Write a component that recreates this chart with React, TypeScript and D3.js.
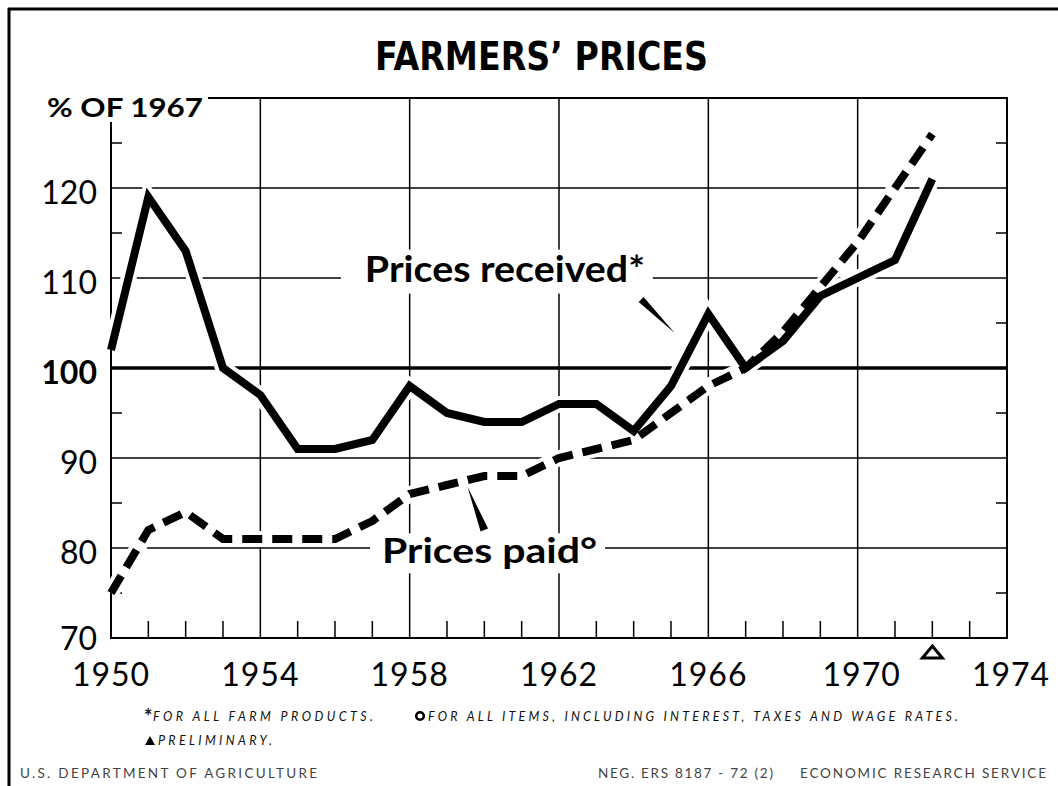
import React from 'react';
import * as d3 from 'd3';

// Farmers' prices, % of 1967
const years = [
  1950, 1951, 1952, 1953, 1954, 1955, 1956, 1957, 1958, 1959, 1960, 1961,
  1962, 1963, 1964, 1965, 1966, 1967, 1968, 1969, 1970, 1971, 1972,
];
const pricesReceived = [
  102, 119, 113, 100, 97, 91, 91, 92, 98, 95, 94, 94, 96, 96, 93, 98, 106, 100,
  103, 108, 110, 112, 121,
];
const pricesPaid = [
  75, 82, 84, 81, 81, 81, 81, 83, 86, 87, 88, 88, 90, 91, 92, 95, 98, 100, 104,
  109, 114, 120, 126,
];
const yearLabels = [1950, 1954, 1958, 1962, 1966, 1970, 1974];
const valueLabels = [70, 80, 90, 100, 110, 120];
const minorValues = [75, 85, 95, 105, 115, 125];
const preliminaryYear = 1972;

const W = 1058;
const H = 786;
const margin = { top: 98, right: 51, bottom: 148, left: 111 };

const x = d3.scaleLinear().domain([1950, 1974]).range([margin.left, W - margin.right]);
const y = d3.scaleLinear().domain([70, 130]).range([H - margin.bottom, margin.top]);

const line = d3
  .line<number>()
  .x((_, i) => x(years[i]))
  .y((d) => y(d));

const TICK_FONT = 'Lato, "DejaVu Sans", sans-serif';

export default function App() {
  const x0 = x.range()[0];
  const x1 = x.range()[1];
  const y0 = y.range()[0];
  const y1 = y.range()[1];
  const minorYears = d3.range(1951, 1974).filter((yr) => !yearLabels.includes(yr));

  // pointer wedges (tapered strokes) from label to line
  const wedge = (ax: number, ay: number, bx: number, by: number, w: number) => {
    const dx = bx - ax;
    const dy = by - ay;
    const len = Math.hypot(dx, dy);
    const nx = (-dy / len) * (w / 2);
    const ny = (dx / len) * (w / 2);
    return `M${ax + nx},${ay + ny}L${ax - nx},${ay - ny}L${bx},${by}Z`;
  };

  const recLabelX = x(1956.8);
  const recLabelY = y(109.6);
  const paidLabelX = x(1957.26);
  const paidLabelY = y(78.3);

  return (
    <svg
      width={W}
      height={H}
      style={{ position: 'absolute', left: 0, top: 0, background: '#fff' }}
    >
      <rect width={W} height={H} fill="#fff" />

      {/* outer frame */}
      <line x1={8} x2={W} y1={9} y2={9} stroke="#000" strokeWidth={3} />
      <line x1={9} x2={9} y1={8} y2={H} stroke="#000" strokeWidth={3} />

      {/* title */}
      <text
        x={375}
        y={70}
        textLength={333}
        lengthAdjust="spacingAndGlyphs"
        fontFamily='"Liberation Sans Narrow", "DejaVu Sans Condensed", sans-serif'
        fontWeight={700}
        fontSize={39}
      >
        FARMERS’ PRICES
      </text>

      {/* grid */}
      <g stroke="#000" strokeWidth={1.5}>
        {yearLabels.slice(1, -1).map((yr) => (
          <line key={yr} x1={x(yr)} x2={x(yr)} y1={y1} y2={y0} />
        ))}
        {valueLabels
          .filter((v) => v !== 70 && v !== 100)
          .map((v) => (
            <line key={v} x1={x0} x2={x1} y1={y(v)} y2={y(v)} />
          ))}
        {minorValues.map((v) => (
          <g key={v}>
            <line x1={x0} x2={x0 + 11} y1={y(v)} y2={y(v)} />
            <line x1={x1 - 11} x2={x1} y1={y(v)} y2={y(v)} />
          </g>
        ))}
        {minorYears.map((yr) => (
          <line key={yr} x1={x(yr)} x2={x(yr)} y1={y0} y2={y0 - 17} />
        ))}
      </g>
      <line x1={x0} x2={x1} y1={y(100)} y2={y(100)} stroke="#000" strokeWidth={3.5} />
      <g stroke="#000" strokeWidth={2}>
        <line x1={x0} x2={x0} y1={y1} y2={y0 + 1} />
        <line x1={x0} x2={x1 + 1} y1={y0} y2={y0} />
        <line x1={x1} x2={x1} y1={y1} y2={y0} />
        <line x1={x0} x2={x1 + 1} y1={y1} y2={y1} />
      </g>

      {/* y axis title with its white patch */}
      <rect x={38} y={88} width={170} height={34} fill="#fff" />
      <text
        x={47}
        y={117}
        textLength={156}
        lengthAdjust="spacingAndGlyphs"
        fontFamily={TICK_FONT}
        fontWeight={700}
        fontSize={26}
      >
        % OF 1967
      </text>

      {/* y tick labels */}
      {valueLabels.map((v) => (
        <text
          key={v}
          x={97}
          y={y(v) + (v === 70 ? 12 : 16)}
          textAnchor="end"
          fontFamily={TICK_FONT}
          fontWeight={v === 100 ? 700 : 400}
          fontSize={32}
        >
          {v}
        </text>
      ))}

      {/* x tick labels */}
      {yearLabels.map((yr) => (
        <text
          key={yr}
          x={x(yr) + (yr >= 1970 ? 4 : 0)}
          y={686}
          textAnchor="middle"
          fontFamily={TICK_FONT}
          fontSize={32}
          letterSpacing={1}
        >
          {yr}
        </text>
      ))}

      {/* preliminary marker */}
      <path
        d={`M${x(preliminaryYear)},${y0 + 8}L${x(preliminaryYear) + 10},${y0 + 20}L${x(preliminaryYear) - 10},${y0 + 20}Z`}
        fill="none"
        stroke="#000"
        strokeWidth={3}
        strokeLinejoin="miter"
      />

      {/* series labels on white patches */}
      <rect x={recLabelX - 24} y={recLabelY - 32} width={312} height={44} fill="#fff" />
      <text
        x={recLabelX}
        y={recLabelY}
        textLength={280}
        lengthAdjust="spacingAndGlyphs"
        fontFamily={TICK_FONT}
        fontWeight={700}
        fontSize={36}
      >
        Prices received*
      </text>
      <rect x={paidLabelX - 12} y={paidLabelY - 30} width={235} height={40} fill="#fff" />
      <text
        x={paidLabelX}
        y={paidLabelY}
        textLength={215}
        lengthAdjust="spacingAndGlyphs"
        fontFamily={TICK_FONT}
        fontWeight={700}
        fontSize={35}
      >
        Prices paid°
      </text>

      {/* white halo under the lines */}
      <g fill="none" stroke="#fff" strokeWidth={16}>
        <path d={line(pricesReceived) ?? ''} />
        <path d={line(pricesPaid) ?? ''} />
      </g>

      {/* data lines */}
      <path
        d={line(pricesPaid) ?? ''}
        fill="none"
        stroke="#000"
        strokeWidth={8}
        strokeDasharray="20 10"
      />
      <path
        d={line(pricesReceived) ?? ''}
        fill="none"
        stroke="#000"
        strokeWidth={8}
        strokeLinejoin="miter"
      />

      {/* pointers */}
      <path d={wedge(x(1964.2), y(107.6), x(1965.1), y(103.9), 7)} fill="#000" />
      <path d={wedge(x(1960), y(82), x(1959.55), y(86.8), 8)} fill="#000" />

      {/* footnotes */}
      <g fontFamily={TICK_FONT} fontStyle="italic" fontSize={12.5} fill="#111">
        <text x={144} y={724} fontSize={20} fontStyle="normal" fontWeight={700}>
          *
        </text>
        <text x={153} y={721} textLength={220} lengthAdjust="spacing">
          FOR ALL FARM PRODUCTS.
        </text>
        <circle cx={420} cy={716} r={3.8} fill="none" stroke="#000" strokeWidth={2.6} />
        <text x={428} y={721} textLength={530} lengthAdjust="spacing">
          FOR ALL ITEMS, INCLUDING INTEREST, TAXES AND WAGE RATES.
        </text>
        <path d="M145,745L150,736L155,745Z" fill="#000" />
        <text x={158} y={745} textLength={114} lengthAdjust="spacing">
          PRELIMINARY.
        </text>
      </g>
      <g fontFamily={TICK_FONT} fontSize={13.5} fill="#444">
        <text x={20} y={778} textLength={297} lengthAdjust="spacing">
          U.S. DEPARTMENT OF AGRICULTURE
        </text>
        <text x={598} y={778} textLength={175} lengthAdjust="spacing">
          NEG. ERS 8187 - 72 (2)
        </text>
        <text x={800} y={778} textLength={246} lengthAdjust="spacing">
          ECONOMIC RESEARCH SERVICE
        </text>
      </g>
    </svg>
  );
}
